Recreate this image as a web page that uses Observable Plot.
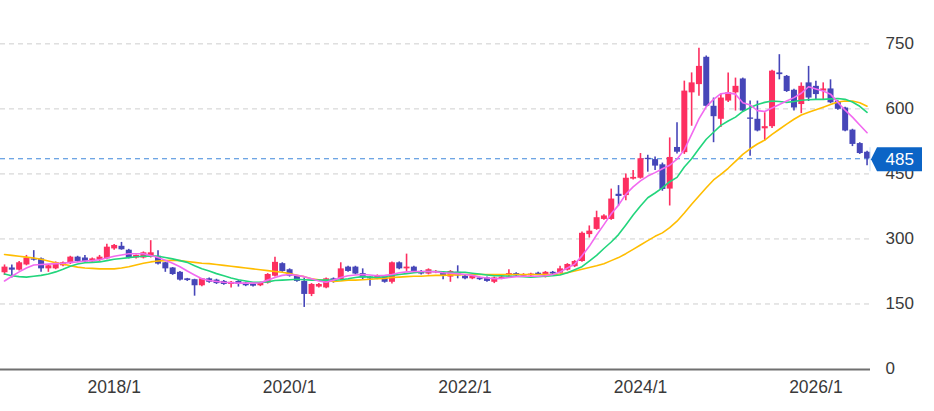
<!DOCTYPE html>
<html>
<head>
<meta charset="utf-8">
<script src="https://cdn.jsdelivr.net/npm/d3@7"></script>
<script src="https://cdn.jsdelivr.net/npm/@observablehq/plot@0.6"></script>
<style>
html, body { margin: 0; padding: 0; background: #fff; }
#chart svg { display: block; }
</style>
</head>
<body>
<div id="chart"></div>
<script>
// Monthly candles, first candle = 2016/10
const startYear = 2016, startMonth = 10;

const open = [222,233,228,240,254,254,231,231,238,243, 258,256,247,251,254,277,283,274,256,256,
  258,260,245,233,223,208,206,192,208,205, 202,195,202,198,196,192,198,214,243,229,
  214,202,172,189,187,208,206,235,235,220, 212,208,212,200,245,231,235,225,219,222,
  221,212,223,214,208,210,210,200,208,215, 220,214,215,221,214,223,221,228,236,248,
  310,322,345,345,403,400,438,440,486,483, 471,415,511,499,637,656,719,606,576,618,
  637,669,579,576,554,559,683,675,643,610, 660,652,641,646,617,602,551,520,500];
const high = [240,240,248,262,273,256,241,247,247,260, 260,262,256,262,288,287,292,276,263,270,
  296,273,246,234,225,209,207,209,210,207, 204,202,204,200,198,200,220,258,245,231,
  216,210,197,197,210,210,245,237,237,231, 213,217,214,247,247,265,237,227,231,227,
  223,227,238,216,216,212,212,212,214,229, 222,220,221,223,225,225,237,243,250,316,
  330,364,356,415,423,450,458,497,493,489, 475,533,568,664,683,740,722,625,633,683,
  671,671,618,618,591,689,725,677,645,660, 698,664,660,667,619,604,553,522,502];
const low = [216,210,226,238,249,223,223,229,236,241, 246,245,245,248,252,274,274,254,254,254,
  256,240,223,216,203,202,168,190,198,195, 193,187,189,190,189,190,196,212,223,212,
  200,142,167,187,185,198,204,223,217,206, 191,206,198,196,229,225,223,217,217,220,
  206,200,208,206,206,204,200,197,206,213, 213,212,213,216,210,217,219,226,234,246,
  302,320,343,343,376,388,436,438,454,458, 410,376,496,495,560,629,604,522,557,615,
  595,593,491,547,526,555,667,638,595,589, 617,621,621,612,597,547,513,495,469];
const close = [235,228,245,256,251,231,238,245,245,258, 248,247,254,258,281,285,275,256,262,268,
  268,242,231,218,205,204,192,208,200,197, 195,200,195,192,191,198,218,246,225,214,
  202,172,195,195,208,200,231,225,219,210, 208,215,200,245,231,235,225,219,229,225,
  214,225,215,208,214,206,202,210,212,220, 215,218,219,218,223,219,231,241,248,313,
  318,349,353,392,398,440,442,485,483,468, 414,488,500,641,660,698,606,582,625,637,
  652,595,576,549,559,687,679,640,602,652, 625,633,646,614,599,549,518,497,485];

// moving averages (pink / green / yellow)
const maShort = [203,214,224,233,240,241,242,243,244,246, 247,249,250,252,256,260,263,266,266,266,
  262,257,251,244,236,226,217,208,204,202, 200,199,198,198,198,199,205,211,216,218,
  216,213,208,203,200,205,211,215,217,218, 217,215,216,218,222,224,225,225,225,224,
  222,221,220,218,216,212,210,208,209,211, 213,214,214,214,215,218,224,233,242,261,
  283,309,333,358,378,403,420,434,445,453, 462,470,484,506,541,577,605,622,635,637,
  634,614,609,596,594,602,610,618,626,636, 651,646,641,634,615,597,581,563,545];
const maMid = [219,215,213,212,214,216,219,224,230,237, 242,245,246,247,250,253,255,257,259,260,
  261,260,257,254,250,246,238,231,226,220, 215,210,206,203,200,200,201,204,205,206,
  207,206,205,205,205,205,206,208,211,213, 212,211,213,216,218,220,222,224,225,225,
  224,223,223,223,221,219,217,215,215,214, 214,213,212,213,214,215,217,222,229,236,
  249,262,278,293,310,332,355,376,395,406, 418,432,442,466,485,508,530,546,562,572,
  581,594,603,610,615,618,617,615,617,620, 621,622,622,623,624,622,616,606,592];
const maLong = [264,262,260,258,256,253,249,245,242,238, 235,233,232,231,231,231,233,236,240,244,
  247,249,250,251,250,248,246,244,243,241, 239,237,235,233,231,229,227,225,223,220,
  216,213,208,206,204,202,203,205,205,206, 207,208,209,211,212,213,214,214,215,216,
  216,217,217,218,218,218,218,218,218,218, 218,218,218,218,218,218,219,222,226,230,
  234,238,243,250,257,266,276,286,296,306, 314,326,341,360,380,399,418,436,449,463,
  479,495,508,519,528,541,553,565,576,586, 592,598,604,610,616,618,618,614,606];

const xTickLabels = ["2018/1", "2020/1", "2022/1", "2024/1", "2026/1"];
const yTickValues = [0, 150, 300, 450, 600, 750];
const gridValues = [150, 300, 450, 600, 750];
const lastPrice = 485;

const UP = "#fd2f60", DOWN = "#4646b8";
const PINK = "#f26af0", GREEN = "#22d57c", YELLOW = "#ffbd00";

const monthIndex = s => { const [y, m] = s.split("/").map(Number); return (y - startYear) * 12 + (m - startMonth); };
const tickIdx = xTickLabels.map(monthIndex);
const labelMap = new Map(tickIdx.map((d, k) => [d, xTickLabels[k]]));

const candles = open.map((o, i) => ({
  i, open: o, high: high[i], low: low[i], close: close[i], up: close[i] >= o
}));
const series = (arr) => arr.map((v, i) => ({ i, v }));

const tag = (index, scales, values, dimensions) => {
  const y = scales.y(lastPrice) + 1;
  const x0 = dimensions.width - dimensions.marginRight;
  const g = d3.create("svg:g");
  g.append("line").attr("x1", x0).attr("x2", x0).attr("y1", y - 12).attr("y2", y + 12)
    .attr("stroke", "#c6def6").attr("stroke-width", 1);
  g.append("path")
    .attr("d", `M${x0 + 1},${y} L${x0 + 7},${y - 12} L${x0 + 52},${y - 12} L${x0 + 52},${y + 12} L${x0 + 7},${y + 12} Z`)
    .attr("fill", "#0b64c6");
  return g.node();
};

const chart = Plot.plot({
  width: 934,
  height: 411,
  marginLeft: 0,
  marginRight: 64,
  marginTop: 0,
  marginBottom: 42.5,
  style: { background: "#fff", fontFamily: "'Liberation Sans', Arial, sans-serif", fontSize: "16px", color: "#3a3a3a" },
  x: { type: "linear", domain: [-0.55, 118.47], label: null },
  y: { domain: [0, 850], label: null },
  marks: [
    Plot.gridY(gridValues, { stroke: "#cfcfcf", strokeOpacity: 1, strokeDasharray: "5,4", strokeWidth: 1 }),
    Plot.ruleY([0], { stroke: "#707070", strokeWidth: 2, dy: 0.5 }),
    Plot.ruleY([lastPrice], { stroke: "#3f88dc", strokeDasharray: "5,4", strokeWidth: 1.2 }),
    Plot.ruleX(candles, { x: "i", y1: "low", y2: "high", stroke: d => d.up ? UP : DOWN, strokeWidth: 1.6 }),
    Plot.ruleX(candles, { x: "i", y1: "open", y2: "close", stroke: d => d.up ? UP : DOWN, strokeWidth: 6 }),
    Plot.line(series(maLong), { x: "i", y: "v", stroke: YELLOW, strokeWidth: 1.6 }),
    Plot.line(series(maMid), { x: "i", y: "v", stroke: GREEN, strokeWidth: 1.6 }),
    Plot.line(series(maShort), { x: "i", y: "v", stroke: PINK, strokeWidth: 1.6 }),
    Plot.axisX(tickIdx, { tickSize: 0, tickPadding: 12, fontSize: 17.5, tickFormat: d => labelMap.get(d), label: null }),
    Plot.axisY(yTickValues, { anchor: "right", tickSize: 0, tickPadding: 15, fontSize: 17, tickFormat: d => String(d), label: null }),
    tag,
    Plot.text([lastPrice], { y: d => d, frameAnchor: "right", dx: 15, dy: 1, textAnchor: "start", text: d => String(d), fill: "white", fontSize: 17 })
  ]
});

document.getElementById("chart").appendChild(chart);
</script>
</body>
</html>
